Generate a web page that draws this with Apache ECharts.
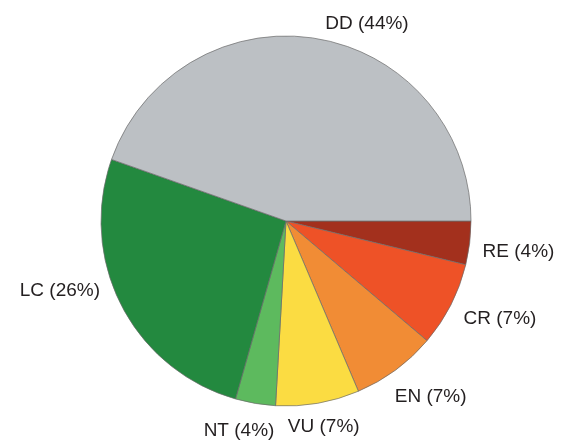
<!DOCTYPE html>
<html>
<head>
<meta charset="utf-8">
<script src="https://cdn.jsdelivr.net/npm/echarts@6/dist/echarts.min.js"></script>
<style>html,body{margin:0;padding:0;background:#fff}#c{width:563px;height:441px}</style>
</head>
<body>
<div id="c"></div>
<script>
const categories = ['RE', 'CR', 'EN', 'VU', 'NT', 'LC', 'DD'];
const values = [3.8, 7.4, 7.4, 7.3, 3.5, 26.0, 44.6];
const labelPercents = [4, 7, 7, 7, 4, 26, 44];
const colors = ['#a3301d', '#ee5227', '#f18c35', '#fbdc42', '#5dba5e', '#23893f', '#bcc0c4'];

// fine label nudges (pixels) to match the hand-placed labels of the original
const labelNudge = {
  RE: [-8, 7], CR: [-7, 8], EN: [-17, 17], VU: [-41, 12],
  NT: [30, 15], LC: [-2, -21], DD: [-3, -3]
};

const chart = echarts.init(document.getElementById('c'), null, {renderer: 'canvas'});
chart.setOption({
  animation: false,
  backgroundColor: '#fff',
  series: [{
    type: 'pie',
    center: [286, 221],
    radius: 185,
    startAngle: 0,
    clockwise: true,
    avoidLabelOverlap: false,
    data: categories.map((c, i) => ({
      name: c,
      value: values[i],
      itemStyle: {color: colors[i]}
    })),
    itemStyle: {borderColor: '#6a6a6a', borderWidth: 0.7},
    emphasis: {disabled: true},
    label: {
      show: true,
      position: 'outside',
      formatter: p => p.name + ' (' + labelPercents[p.dataIndex] + '%)',
      fontFamily: 'Liberation Sans, Arial, sans-serif',
      fontSize: 19,
      color: '#231f20'
    },
    labelLine: {show: false, length: 12, length2: 4},
    labelLayout: p => {
      const n = labelNudge[categories[p.dataIndex]] || [0, 0];
      return {dx: n[0], dy: n[1]};
    }
  }]
});
</script>
</body>
</html>
